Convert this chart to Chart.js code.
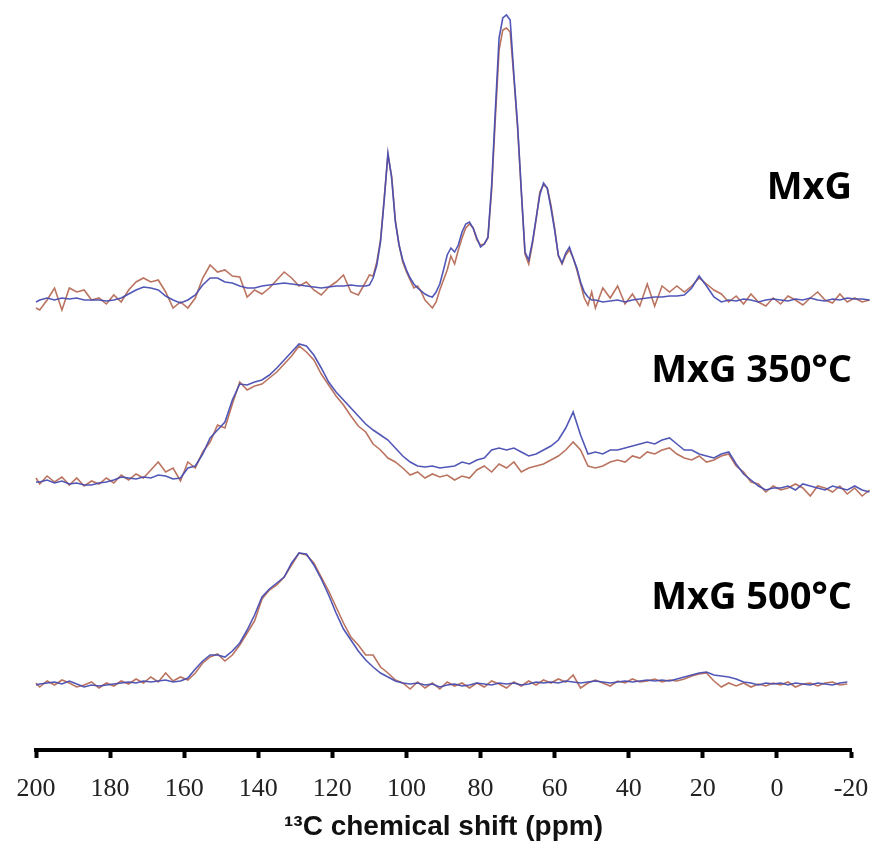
<!DOCTYPE html>
<html>
<head>
<meta charset="utf-8">
<script src="https://cdn.jsdelivr.net/npm/chart.js@4.4.1/dist/chart.umd.min.js"></script>
<style>
  html, body { margin: 0; padding: 0; background: #fff; }
  #nmr-chart { display: block; }
</style>
</head>
<body>
<canvas id="nmr-chart" width="876" height="849"></canvas>
<script>
// chemical shift grids (ppm) - fine one for the MxG trace around the sharp peaks
var shiftWide = [200];
for (var s = 199; s >= -25; s -= 2) shiftWide.push(s);
var shiftFine = [200];
for (var s = 199; s >= 111; s -= 2) shiftFine.push(s);
for (var s = 110; s >= 50; s -= 1) shiftFine.push(s);
for (var s = 49; s >= -25; s -= 2) shiftFine.push(s);

var sampleNames = ['MxG', 'MxG 350°C', 'MxG 500°C'];

// MxG (on shiftFine) - blue = smoothed, brown = raw
var mxgBlue = [
  -2,0,2,0,2,1,2,0,0,0, -1,0,2,6,10,13,12,10,4,0, -3,0,5,15,22,22,18,17,14,12,
  12,14,15,16,17,16,15,14,13,12, 13,14,14,15,14,14,
  15,22,35,58,100,147,122,78,55,40, 30,22,16,12,9,6,4,3,8,16,
  30,45,52,48,55,68,76,78,72,62, 53,56,63,115,190,262,282,285,280,225,
  175,110,48,40,58,82,105,117,112,92, 70,45,37,47,53,42,32,18,8,3, 0,
  0,-2,-1,0,-2,0,1,2,3,3, 4,4,5,12,24,14,3,-2,0,-1,
  1,0,-2,0,1,0,-1,1,0,2, 0,-1,1,0,2,1,1,0
];
var mxgBrown = [
  -8,-10,0,12,-10,12,8,10,0,2, -4,5,-2,10,18,22,18,20,8,-8, -2,-8,2,22,35,28,30,24,23,3,
  10,6,12,20,28,22,14,18,10,5, 13,18,25,8,5,18,
  25,24,38,60,102,145,124,80,55,38, 28,20,12,14,8,0,-4,-8,-2,10,
  20,30,44,36,50,62,72,76,72,60, 55,56,62,110,182,250,270,272,268,222,
  172,108,46,36,56,80,108,115,112,95, 72,44,36,45,50,42,30,16,2,-5, 8,
  -8,12,2,14,-4,6,-6,16,-6,14, 8,14,8,14,22,16,10,6,-2,4,
  -4,6,-2,-6,2,-4,4,0,-5,2, 8,0,-3,6,-2,2,-2,0
];

// MxG 350°C (on shiftWide)
var mxg350Blue = [
  -2,-2,0,-3,-1,-4,-3,-5,-5,-3, -2,0,3,2,1,3,2,5,4,1,
  2,12,14,26,42,50,58,80,96,95, 98,100,105,112,120,128,136,134,125,112,
  98,88,80,72,64,56,50,45,40,32, 24,18,14,13,14,12,13,14,18,16,
  20,22,30,32,30,32,28,24,26,30, 34,40,52,68,45,26,28,26,30,30,
  32,34,36,38,36,40,42,36,30,30, 26,24,22,26,28,16,6,0,-6,-10,
  -8,-8,-6,-10,-4,-6,-8,-10,-6,-8, -10,-6,-10,-12
];
var mxg350Brown = [
  2,-4,4,-2,3,-5,2,-6,-1,-4, 2,-3,5,0,6,2,10,18,8,12,
  -1,18,12,28,38,55,52,76,98,90, 94,96,102,108,116,124,134,128,120,106,
  95,84,75,64,54,48,36,30,22,18, 12,5,8,2,6,3,5,0,4,2,
  10,14,8,16,12,18,8,12,14,16, 20,24,30,38,30,14,12,14,18,20,
  18,24,22,28,26,30,32,26,22,20, 24,18,20,24,26,14,8,-2,-4,-12,
  -6,-10,-8,-4,-8,-16,-6,-8,-12,-6, -14,-8,-16,-10
];

// MxG 500°C (on shiftWide)
var mxg500Blue = [
  0,1,2,3,1,4,1,-2,0,-1, 0,1,2,3,2,4,3,4,5,3,
  4,7,16,24,30,30,28,34,42,55, 70,88,96,102,108,122,132,131,120,106,
  90,72,56,45,34,25,18,12,8,4, 2,1,2,0,1,-2,0,1,-1,0,
  2,1,0,2,1,2,0,1,3,2, 3,2,4,3,2,3,4,3,2,3,
  4,3,4,5,4,5,4,6,8,10, 12,13,10,9,8,6,3,2,0,2,
  1,2,0,2,1,0,2,1,0,2, 3,null,null,null
];
var mxg500Brown = [
  2,-2,4,0,5,2,-2,0,3,-3, 2,-1,4,1,6,2,8,3,12,4,
  8,5,12,22,28,31,24,30,40,52, 64,86,95,100,108,120,132,130,122,108,
  94,78,62,48,40,30,30,18,12,5, 2,-4,3,-3,2,-4,3,-1,2,-3,
  2,-2,4,1,-3,3,-1,4,0,5, 2,6,3,10,-3,2,5,2,-1,4,
  2,6,3,4,6,3,5,4,6,9, 11,12,4,-2,2,-1,2,-2,1,-1,
  2,0,3,-2,1,2,-1,2,3,0, 1,null,null,null
];

var baselines = [450, 270, 65];
var labelLevels = [562, 379, 152];

var blue = 'rgba(72, 78, 178, 0.95)';
var brown = 'rgba(178, 100, 78, 0.9)';

function toPoints(xs, ys, base) {
  var pts = [];
  for (var i = 0; i < xs.length; i++) {
    pts.push({ x: xs[i], y: ys[i] === null ? null : ys[i] + base });
  }
  return pts;
}

function trace(xs, ys, base, color) {
  return {
    data: toPoints(xs, ys, base),
    borderColor: color,
    borderWidth: 1.6,
    pointRadius: 0,
    tension: 0,
    fill: false,
    clip: false
  };
}

var datasets = [
  trace(shiftFine, mxgBlue, baselines[0], blue),
  trace(shiftFine, mxgBrown, baselines[0], brown),
  trace(shiftWide, mxg350Blue, baselines[1], blue),
  trace(shiftWide, mxg350Brown, baselines[1], brown),
  trace(shiftWide, mxg500Blue, baselines[2], blue),
  trace(shiftWide, mxg500Brown, baselines[2], brown)
];

// sample names on the right of each trace
var sampleLabels = {
  id: 'sampleLabels',
  afterDatasetsDraw: function(chart) {
    var c = chart.ctx;
    var xs = chart.scales.x, ys = chart.scales.y;
    c.save();
    c.font = 'bold 38px "Open Sans", sans-serif';
    c.fillStyle = '#000';
    c.textAlign = 'right';
    c.textBaseline = 'middle';
    for (var i = 0; i < sampleNames.length; i++) {
      c.fillText(sampleNames[i], xs.getPixelForValue(-20) + 1, ys.getPixelForValue(labelLevels[i]));
    }
    c.restore();
  }
};

var ctx = document.getElementById('nmr-chart');
var myChart = new Chart(ctx, {
  type: 'line',
  data: { datasets: datasets },
  plugins: [sampleLabels],
  options: {
    responsive: false,
    animation: false,
    layout: { padding: { left: 36, right: 25, top: 0, bottom: 5 } },
    plugins: {
      legend: { display: false },
      tooltip: { enabled: false }
    },
    scales: {
      x: {
        type: 'linear',
        reverse: true,
        min: -20,
        max: 200,
        // keep the axis box tight (tick padding is otherwise counted twice)
        afterFit: function(scale) {
          scale.height = 94;
          scale.paddingLeft = 0;
          scale.paddingRight = 0;
        },
        ticks: {
          stepSize: 20,
          padding: 16,
          color: '#222',
          font: { family: '"Liberation Serif", serif', size: 26 }
        },
        grid: {
          drawOnChartArea: false,
          drawTicks: true,
          tickLength: 8,
          tickWidth: 4,
          tickColor: '#000'
        },
        border: { display: true, color: '#000', width: 4 },
        title: {
          display: true,
          text: '¹³C chemical shift (ppm)',
          color: '#111',
          padding: { top: 0, bottom: 0 },
          font: { family: '"Liberation Sans", sans-serif', size: 28, weight: 'bold' }
        }
      },
      y: { display: false, min: 0, max: 750 }
    }
  }
});
</script>
</body>
</html>
